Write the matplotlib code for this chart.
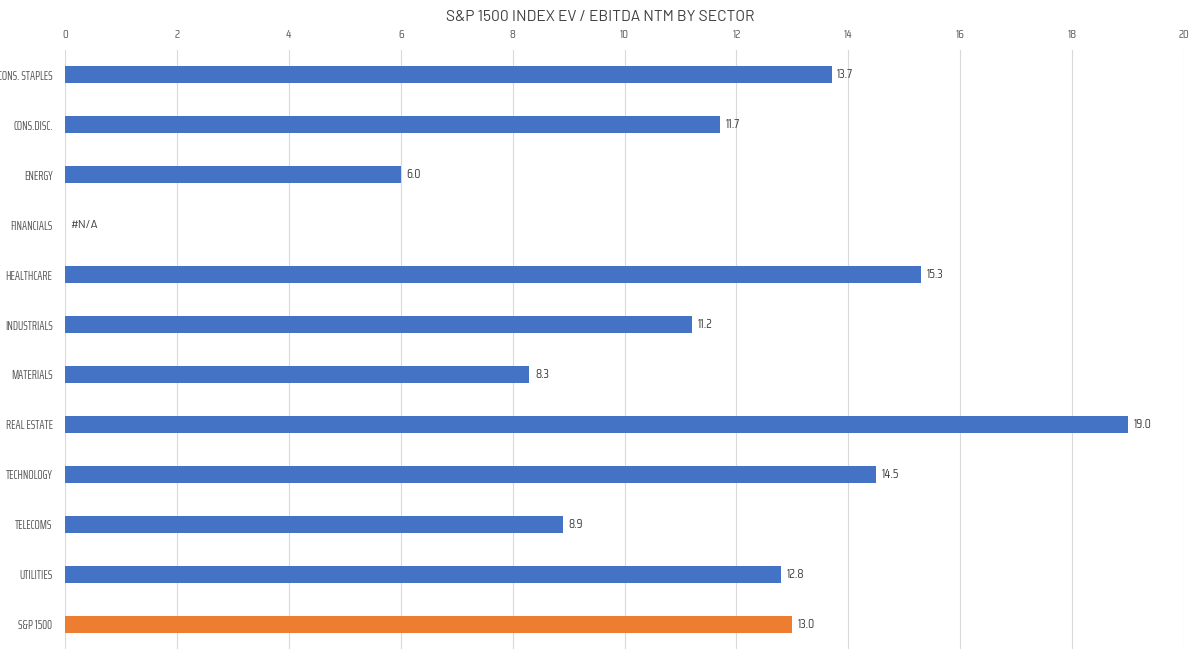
import matplotlib
matplotlib.use("Agg")
import matplotlib.pyplot as plt

plt.rcParams["font.family"] = ["Saira Condensed", "DejaVu Sans"]

sectors = ["CONS. STAPLES", "CONS.DISC.", "ENERGY", "FINANCIALS", "HEALTHCARE",
           "INDUSTRIALS", "MATERIALS", "REAL ESTATE", "TECHNOLOGY", "TELECOMS",
           "UTILITIES", "S&P 1500"]
values = [13.7, 11.7, 6.0, None, 15.3, 11.2, 8.3, 19.0, 14.5, 8.9, 12.8, 13.0]
colors = ["#4472C4"] * 11 + ["#ED7D31"]

fig = plt.figure(figsize=(12, 6.6), dpi=100)
ax = fig.add_axes([65 / 1200, 1 - 649 / 660, (1184 - 65) / 1200, 599 / 660])

ypos = list(range(len(sectors)))
for y, v, c in zip(ypos, values, colors):
    if v is None:
        ax.text(0.1, y, "#N/A", va="center", ha="left", fontsize=8.5, color="#404040",
                family=["Barlow", "DejaVu Sans"])
        continue
    ax.barh(y, v, height=0.34, color=c)
    ax.text(v + 0.1, y, f"{v:.1f}", va="center", ha="left", fontsize=9, color="#404040")

ax.set_xlim(0, 20)
ax.set_ylim(len(sectors) - 0.5, -0.5)
ax.set_xticks(range(0, 21, 2))
ax.set_yticks(ypos)
ax.set_yticklabels(sectors, family=["Saira ExtraCondensed", "Saira Condensed", "DejaVu Sans"])
ax.xaxis.tick_top()
ax.tick_params(axis="both", length=0, colors="#595959")
ax.tick_params(axis="y", pad=9, labelsize=9)
ax.tick_params(axis="x", pad=7, labelsize=8.5)
ax.grid(axis="x", color="#d9d9d9", linewidth=0.8)
ax.set_axisbelow(True)
for s in ax.spines.values():
    s.set_visible(False)

fig.text(0.5, 1 - 17 / 660, "S&P 1500 INDEX EV / EBITDA NTM BY SECTOR", ha="center", va="center",
         fontsize=11.2, color="#404040", family=["Barlow", "DejaVu Sans"])

fig.savefig("out.png", dpi=100)
